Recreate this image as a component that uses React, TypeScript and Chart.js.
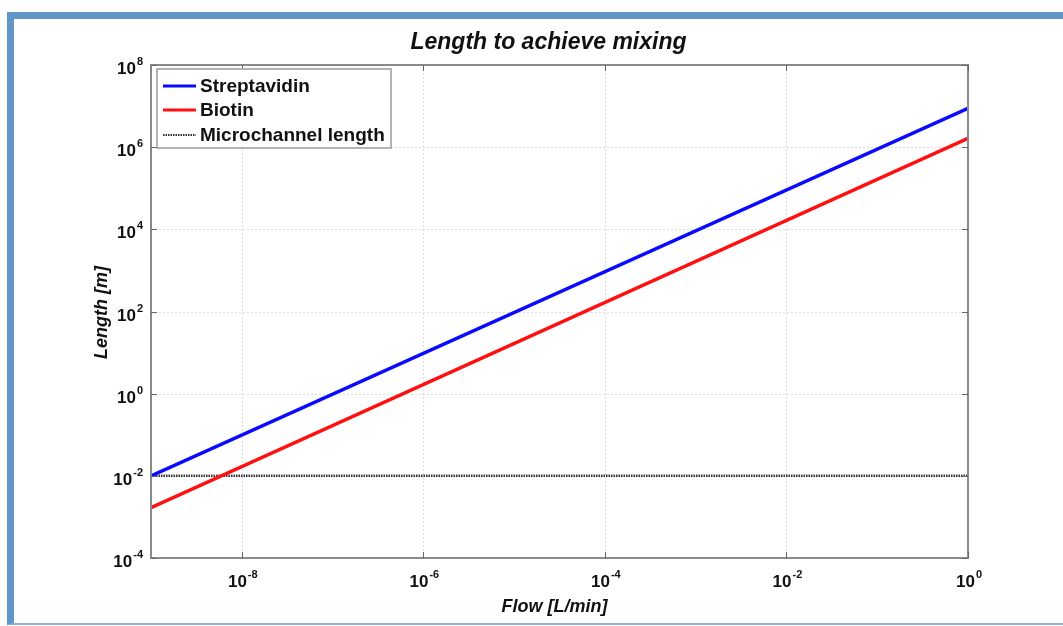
import React, { useEffect, useRef } from "react";
import { Chart, registerables } from "chart.js";

Chart.register(...registerables);

// ---- data ----
const flow = [1e-9, 1]; // L/min
const streptavidin = [1e-2, 8.8e6]; // m
const biotin = [1.68e-3, 1.64e6]; // m
const microchannel = [1e-2, 1e-2]; // m

const seriesNames = ["Streptavidin", "Biotin", "Microchannel length"];
const xTickValues = [1e-8, 1e-6, 1e-4, 1e-2, 1];
const xTickExps = ["-8", "-6", "-4", "-2", "0"];
const yTickValues = [1e-4, 1e-2, 1, 1e2, 1e4, 1e6, 1e8];
const yTickExps = ["-4", "-2", "0", "2", "4", "6", "8"];

const titleText = "Length to achieve mixing";
const xTitle = "Flow [L/min]";
const yTitle = "Length [m]";

const FONT = "'Liberation Sans', Arial, Helvetica, sans-serif";

function drawPow(ctx: CanvasRenderingContext2D, x: number, y: number, exp: string, align: "right" | "center") {
  ctx.save();
  ctx.fillStyle = "#111";
  ctx.textBaseline = "alphabetic";
  ctx.textAlign = "left";
  ctx.font = `bold 17px ${FONT}`;
  const w1 = ctx.measureText("10").width;
  ctx.font = `bold 11px ${FONT}`;
  const w2 = ctx.measureText(exp).width;
  const total = w1 + 1 + w2;
  const sx = align === "right" ? x - total : x - total / 2;
  ctx.font = `bold 17px ${FONT}`;
  ctx.fillText("10", sx, y);
  ctx.font = `bold 11px ${FONT}`;
  ctx.fillText(exp, sx + w1 + 1, y - 9);
  ctx.restore();
}

const decorPlugin = {
  id: "decor",
  beforeDatasetsDraw(chart: any) {
    const { ctx, chartArea } = chart;
    const { left, right, top, bottom } = chartArea;
    const xs = chart.scales.x;
    const ys = chart.scales.y;
    ctx.save();
    ctx.strokeStyle = "#dcdcdc";
    ctx.lineWidth = 1;
    ctx.setLineDash([2, 2]);
    xTickValues.forEach((v) => {
      const px = Math.round(xs.getPixelForValue(v)) + 0.5;
      if (px > left + 2 && px < right - 2) {
        ctx.beginPath();
        ctx.moveTo(px, top);
        ctx.lineTo(px, bottom);
        ctx.stroke();
      }
    });
    yTickValues.forEach((v) => {
      const py = Math.round(ys.getPixelForValue(v)) + 0.5;
      if (py > top + 2 && py < bottom - 2) {
        ctx.beginPath();
        ctx.moveTo(left, py);
        ctx.lineTo(right, py);
        ctx.stroke();
      }
    });
    ctx.restore();
  },
  afterDraw(chart: any) {
    const { ctx, chartArea } = chart;
    const { left, right, top, bottom } = chartArea;
    const xs = chart.scales.x;
    const ys = chart.scales.y;
    ctx.save();
    // box
    ctx.strokeStyle = "#8a8a8a";
    ctx.lineWidth = 2;
    ctx.strokeRect(left, top, right - left, bottom - top);
    // tick marks
    ctx.strokeStyle = "#666";
    ctx.lineWidth = 1;
    xTickValues.forEach((v) => {
      const px = Math.round(xs.getPixelForValue(v)) + 0.5;
      ctx.beginPath();
      ctx.moveTo(px, bottom);
      ctx.lineTo(px, bottom - 6);
      ctx.moveTo(px, top);
      ctx.lineTo(px, top + 6);
      ctx.stroke();
    });
    yTickValues.forEach((v) => {
      const py = Math.round(ys.getPixelForValue(v)) + 0.5;
      ctx.beginPath();
      ctx.moveTo(left, py);
      ctx.lineTo(left + 6, py);
      ctx.moveTo(right, py);
      ctx.lineTo(right - 6, py);
      ctx.stroke();
    });
    // tick labels
    xTickValues.forEach((v, i) => {
      const px = xs.getPixelForValue(v);
      drawPow(ctx, px + 1, bottom + 29, xTickExps[i], "center");
    });
    yTickValues.forEach((v, i) => {
      const py = ys.getPixelForValue(v);
      drawPow(ctx, left - 8, py + 9, yTickExps[i], "right");
    });
    // titles
    ctx.fillStyle = "#111";
    ctx.textAlign = "center";
    ctx.textBaseline = "alphabetic";
    ctx.font = `italic bold 23px ${FONT}`;
    ctx.fillText(titleText, (left + right) / 2 - 11, 49);
    ctx.font = `italic bold 18px ${FONT}`;
    ctx.fillText(xTitle, (left + right) / 2 - 5, 612);
    ctx.save();
    ctx.translate(107, (top + bottom) / 2 + 1);
    ctx.rotate(-Math.PI / 2);
    ctx.fillText(yTitle, 0, 0);
    ctx.restore();
    // legend
    const lx = left + 6;
    const ly = top + 4;
    const lw = 234;
    const lh = 79;
    ctx.fillStyle = "#ffffff";
    ctx.fillRect(lx, ly, lw, lh);
    ctx.strokeStyle = "#9a9a9a";
    ctx.lineWidth = 1.5;
    ctx.strokeRect(lx, ly, lw, lh);
    const rows = [ly + 17, ly + 41, ly + 66];
    chart.data.datasets.forEach((ds: any, i: number) => {
      ctx.save();
      ctx.strokeStyle = ds.borderColor;
      ctx.lineWidth = i === 2 ? 2 : 3;
      ctx.setLineDash(ds.borderDash || []);
      ctx.beginPath();
      ctx.moveTo(lx + 6, rows[i]);
      ctx.lineTo(lx + 39, rows[i]);
      ctx.stroke();
      ctx.restore();
      ctx.fillStyle = "#111";
      ctx.textAlign = "left";
      ctx.textBaseline = "middle";
      ctx.font = `bold 19px ${FONT}`;
      ctx.fillText(ds.label, lx + 43, rows[i] + 1);
    });
    ctx.restore();
  },
};

export default function App() {
  const ref = useRef<HTMLCanvasElement | null>(null);
  useEffect(() => {
    document.body.style.margin = "0";
    const canvas = ref.current;
    if (!canvas) return;
    const mk = (ys: number[]) => flow.map((x, i) => ({ x, y: ys[i] }));
    const chart = new Chart(canvas, {
      type: "line",
      data: {
        datasets: [
          { label: seriesNames[0], data: mk(streptavidin), borderColor: "#0a0aff", borderWidth: 3.5, pointRadius: 0, fill: false },
          { label: seriesNames[1], data: mk(biotin), borderColor: "#ff1010", borderWidth: 3.5, pointRadius: 0, fill: false },
          { label: seriesNames[2], data: mk(microchannel), borderColor: "#333333", borderWidth: 2.5, borderDash: [1.5, 1], pointRadius: 0, fill: false },
        ],
      },
      options: {
        responsive: false,
        animation: false,
        devicePixelRatio: 1,
        layout: { padding: { left: 151, top: 65, right: 95, bottom: 68 } },
        plugins: { legend: { display: false }, title: { display: false }, tooltip: { enabled: false } },
        scales: {
          x: {
            type: "logarithmic",
            min: flow[0],
            max: flow[flow.length - 1],
            grid: { display: false },
            border: { display: false },
            ticks: { display: false },
            afterFit: (s: any) => { s.height = 0; },
          },
          y: {
            type: "logarithmic",
            min: yTickValues[0],
            max: yTickValues[yTickValues.length - 1],
            grid: { display: false },
            border: { display: false },
            ticks: { display: false },
            afterFit: (s: any) => { s.width = 0; },
          },
        },
      },
      plugins: [decorPlugin],
    } as any);
    return () => chart.destroy();
  }, []);
  return (
    <div style={{ position: "relative", width: 1063, height: 626, background: "#fff", overflow: "hidden" }}>
      <div
        style={{
          position: "absolute",
          left: 7,
          top: 12,
          width: 1070,
          height: 613,
          boxSizing: "border-box",
          borderLeft: "7px solid #6196C8",
          borderTop: "7px solid #6196C8",
          borderBottom: "2px solid #8db3dc",
        }}
      />
      <canvas ref={ref} width={1063} height={626} style={{ position: "absolute", left: 0, top: 0 }} />
    </div>
  );
}
